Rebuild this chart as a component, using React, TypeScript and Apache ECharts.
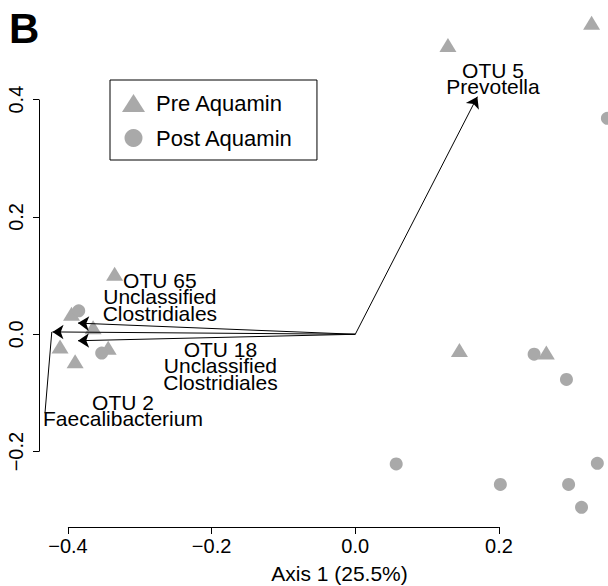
import React, { useEffect, useRef } from "react";
import * as echarts from "echarts";

// ---- Data ----
const prePoints: [number, number][] = [
  [0.129, 0.493],
  [0.329, 0.531],
  [-0.335, 0.103],
  [-0.365, 0.012],
  [-0.411, -0.021],
  [-0.39, -0.046],
  [-0.344, -0.023],
  [-0.395, 0.035],
  [0.145, -0.027],
  [0.266, -0.031],
];
const postPoints: [number, number][] = [
  [0.351, 0.368],
  [-0.353, -0.032],
  [-0.385, 0.04],
  [0.249, -0.034],
  [0.294, -0.077],
  [0.057, -0.221],
  [0.202, -0.256],
  [0.297, -0.256],
  [0.315, -0.295],
  [0.337, -0.22],
];
const arrowOrigin: [number, number] = [0, 0];
const arrowTips: [number, number][] = [
  [0.17, 0.405],
  [-0.386, 0.019],
  [-0.4215, 0.004],
  [-0.386, -0.011],
];
const labelTexts = [
  "OTU 5\nPrevotella",
  "OTU 65\nUnclassified\nClostridiales",
  "OTU 2\nFaecalibacterium",
  "OTU 18\nUnclassified\nClostridiales",
];
const labelPositions: [number, number][] = [
  [0.1917, 0.436],
  [-0.272, 0.0636],
  [-0.3234, -0.13],
  [-0.1877, -0.054],
];
const leaderLine: [number, number][] = [
  [-0.4225, 0.004],
  [-0.432, -0.1347],
];
const xTicks = [-0.4, -0.2, 0, 0.2];
const yTicks = [-0.2, 0, 0.2, 0.4];
const xRange: [number, number] = [-0.4403, 0.3964];
const yRange: [number, number] = [-0.3285, 0.5493];
const seriesNames = ["Pre Aquamin", "Post Aquamin"];
const xTitle = "Axis 1 (25.5%)";
const panelLetter = "B";

const FONT = '"Liberation Sans", Arial, Helvetica, sans-serif';
const GREY = "#A9A9A9";

const fmt = (v: number) => (v < 0 ? "\u2212" : "") + Math.abs(v).toFixed(1);

export default function App() {
  const ref = useRef<HTMLDivElement>(null);
  useEffect(() => {
    if (!ref.current) return;
    const chart = echarts.init(ref.current, undefined, { renderer: "svg" });
    const option: any = {
      animation: false,
      backgroundColor: "#fff",
      textStyle: { fontFamily: FONT },
      grid: {
        left: 39,
        right: -32,
        top: 12,
        bottom: 59,
        containLabel: false,
        outerBoundsMode: "none",
      },
      xAxis: {
        type: "value",
        min: xRange[0],
        max: xRange[1],
        axisLine: { show: false, onZero: false },
        splitLine: { show: false },
        axisTick: {
          show: true,
          length: 7,
          customValues: xTicks,
          lineStyle: { color: "#000", width: 1 },
        },
        axisLabel: {
          customValues: xTicks,
          formatter: fmt,
          fontSize: 20,
          color: "#000",
          fontFamily: FONT,
          margin: 9,
        },
        name: xTitle,
        nameLocation: "middle",
        nameGap: 36,
        nameTextStyle: { fontSize: 21, color: "#000", fontFamily: FONT },
      },
      yAxis: {
        type: "value",
        min: yRange[0],
        max: yRange[1],
        axisLine: { show: false, onZero: false },
        splitLine: { show: false },
        axisTick: {
          show: true,
          length: 6,
          customValues: yTicks,
          lineStyle: { color: "#000", width: 1 },
        },
        axisLabel: {
          customValues: yTicks,
          formatter: fmt,
          rotate: 90,
          fontSize: 20,
          color: "#000",
          fontFamily: FONT,
          margin: 13,
        },
      },
      legend: {
        data: seriesNames,
        orient: "vertical",
        left: 110,
        top: 80,
        borderColor: "#000",
        borderWidth: 1,
        padding: [12, 24, 11, 12],
        itemWidth: 23,
        itemHeight: 18,
        itemGap: 13,
        selectedMode: false,
        textStyle: {
          fontSize: 22,
          color: "#000",
          fontFamily: FONT,
          padding: [0, 0, 0, 6],
        },
      },
      graphic: [
        {
          type: "text",
          x: 9,
          y: 28,
          style: {
            text: panelLetter,
            font: `bold 42px ${FONT}`,
            fill: "#000",
            textVerticalAlign: "middle",
            verticalAlign: "middle",
          },
        },
      ],
      series: [
        {
          name: "axes",
          type: "lines",
          coordinateSystem: "cartesian2d",
          clip: false,
          silent: true,
          symbol: "none",
          lineStyle: { color: "#000", width: 1, opacity: 1 },
          data: [
            { coords: [[xTicks[0], yRange[0]], [xTicks[xTicks.length - 1], yRange[0]]] },
            { coords: [[xRange[0], yTicks[0]], [xRange[0], yTicks[yTicks.length - 1]]] },
          ],
          z: 1,
        },
        {
          name: seriesNames[0],
          type: "scatter",
          symbol: "triangle",
          symbolSize: [17, 14],
          itemStyle: { color: GREY, opacity: 1 },
          data: prePoints,
          z: 2,
        },
        {
          name: seriesNames[1],
          type: "scatter",
          symbol: "circle",
          symbolSize: 13,
          itemStyle: { color: GREY, opacity: 1 },
          data: postPoints,
          z: 2,
        },
        {
          name: "arrows",
          type: "lines",
          coordinateSystem: "cartesian2d",
          clip: false,
          silent: true,
          symbol: ["none", "arrow"],
          symbolSize: 11,
          lineStyle: { color: "#000", width: 1, opacity: 1 },
          itemStyle: { color: "#000" },
          data: arrowTips.map((t) => ({ coords: [arrowOrigin, t] })),
          z: 3,
        },
        {
          name: "leader",
          type: "lines",
          coordinateSystem: "cartesian2d",
          clip: false,
          silent: true,
          symbol: "none",
          lineStyle: { color: "#000", width: 1, opacity: 1 },
          data: [{ coords: leaderLine }],
          z: 3,
        },
        {
          name: "labels",
          type: "scatter",
          silent: true,
          symbol: "circle",
          symbolSize: 1,
          itemStyle: { color: "rgba(0,0,0,0)" },
          data: labelPositions.map((p, i) => ({ value: p, name: labelTexts[i] })),
          label: {
            show: true,
            position: "inside",
            formatter: (p: any) => p.name,
            fontSize: 21,
            lineHeight: 16.5,
            color: "#000",
            opacity: 1,
            fontFamily: FONT,
            align: "center",
            verticalAlign: "middle",
          },
          z: 4,
        },
      ],
    };
    chart.setOption(option);
    return () => chart.dispose();
  }, []);
  return (
    <div style={{ position: "fixed", left: 0, top: 0, width: 608, height: 586, overflow: "hidden", background: "#fff" }}>
      <div ref={ref} style={{ width: 608, height: 586 }} />
    </div>
  );
}
